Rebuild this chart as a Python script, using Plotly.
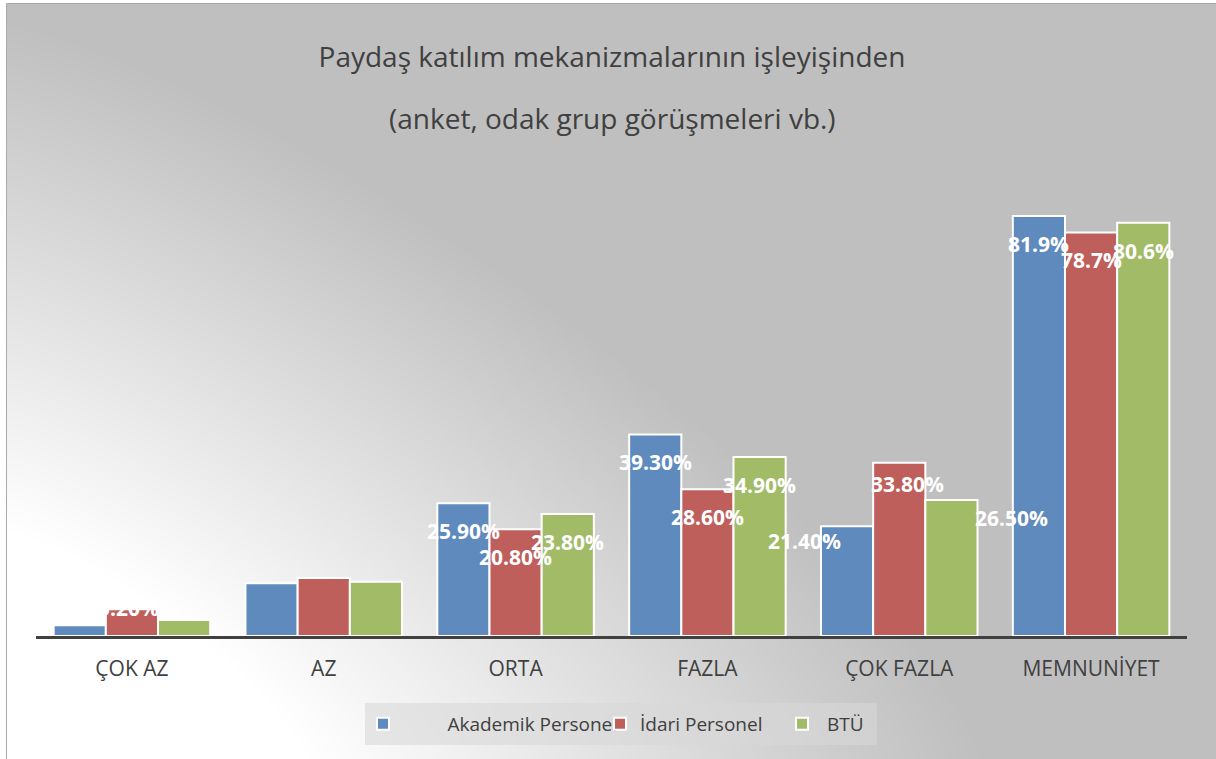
import base64
import struct
import zlib

import numpy as np
import plotly.graph_objects as go

# ---------------- data ----------------
categories = ["ÇOK AZ", "AZ", "ORTA", "FAZLA", "ÇOK FAZLA", "MEMNUNİYET"]
series_names = ["Akademik Personel", "İdari Personel", "BTÜ"]
akademik = [2.1, 10.3, 25.9, 39.3, 21.4, 81.9]
idari = [5.2, 11.3, 20.8, 28.6, 33.8, 78.7]
btu = [3.1, 10.6, 23.8, 34.9, 26.5, 80.6]
akademik_labels = ["", "", "25.90%", "39.30%", "21.40%", "81.9%"]
idari_labels = ["5.20%", "", "20.80%", "28.60%", "33.80%", "78.7%"]
btu_labels = ["", "", "23.80%", "34.90%", "26.50%", "80.6%"]
title_lines = ["Paydaş katılım mekanizmalarının işleyişinden",
               "(anket, odak grup görüşmeleri vb.)"]

# ---------------- style ----------------
W, H = 1216, 759
ML, MR, MT, MB = 36, 29, 175, 123
PX_PER_UNIT = 5.128
colors = ["#5F8ABD", "#BF5F5C", "#A1BB67"]
text_color = "#404040"
FONT = "Open Sans"
bargap = 0.184
# manual label displacements (px): (series, category) -> (dx, dy below bar top)
label_default_dy = 28
label_moves = {(1, 0): (-3, -1), (0, 4): (-43, 15), (1, 4): (8, 21), (2, 4): (60, 18)}

plot_w = W - ML - MR
plot_h = H - MT - MB


def px_to_paper_x(px):
    return (px - ML) / plot_w


def px_to_paper_y(py):
    return (H - MB - py) / plot_h


def gradient_png(w, h, box):
    x0, y0, x1, y1 = box
    xs = x0 + (np.arange(w) + 0.5) * (x1 - x0) / w
    ys = y0 + (np.arange(h) + 0.5) * (y1 - y0) / h
    X, Y = np.meshgrid(xs, ys)
    Hh = np.maximum(H - Y, 0)
    p = 1.3
    d = ((0.75 * X) ** p + Hh ** p) ** (1 / p)
    t = np.clip((d - 229) / 510, 0, 1)
    v = np.round(255 - 64 * t).astype(np.uint8)
    raw = b"".join(b"\x00" + row.tobytes() for row in v)

    def chunk(tag, data):
        return (struct.pack(">I", len(data)) + tag + data
                + struct.pack(">I", zlib.crc32(tag + data) & 0xFFFFFFFF))

    png = (b"\x89PNG\r\n\x1a\n"
           + chunk(b"IHDR", struct.pack(">IIBBBBB", w, h, 8, 0, 0, 0, 0))
           + chunk(b"IDAT", zlib.compress(raw, 9))
           + chunk(b"IEND", b""))
    return "data:image/png;base64," + base64.b64encode(png).decode()


bg_box = (7, 3, 1216, 759)
bg_src = gradient_png(604, 378, bg_box)

values = [akademik, idari, btu]
labels = [akademik_labels, idari_labels, btu_labels]
legend_widths = [192, 137, None]
legend_pad = ["\u00a0" * 9, "", "\u00a0"]

fig = go.Figure()
for j, (name, vals) in enumerate(zip(series_names, values)):
    fig.add_trace(go.Bar(
        x=categories, y=vals, name=legend_pad[j] + name,
        marker=dict(color=colors[j], line=dict(color="white", width=2)),
        legendwidth=legend_widths[j],
        hoverinfo="skip",
    ))

bw_units = (1 - bargap) / 3
annotations = []
for j in range(3):
    for i, txt in enumerate(labels[j]):
        if not txt:
            continue
        dx, dy = label_moves.get((j, i), (0, label_default_dy))
        annotations.append(dict(
            x=i + (j - 1) * bw_units, y=values[j][i], xref="x", yref="y",
            text=txt, showarrow=False, xanchor="center", yanchor="middle",
            xshift=dx, yshift=-dy,
            font=dict(family=FONT, size=21, color="white", weight="bold"),
        ))

# second title line
annotations.append(dict(
    x=px_to_paper_x(612), y=px_to_paper_y(118), xref="paper", yref="paper",
    text=title_lines[1], showarrow=False, xanchor="center", yanchor="middle",
    font=dict(family=FONT, size=28, color=text_color),
))

shapes = [
    # legend box
    dict(type="rect", xref="paper", yref="paper", layer="below",
         x0=px_to_paper_x(365), x1=px_to_paper_x(877),
         y0=px_to_paper_y(745), y1=px_to_paper_y(703),
         fillcolor="rgba(216,216,216,0.59)", line=dict(width=0)),
    # chart border
    dict(type="rect", xref="paper", yref="paper", layer="above",
         x0=px_to_paper_x(6.5), x1=px_to_paper_x(1222),
         y0=px_to_paper_y(766), y1=px_to_paper_y(3.5),
         fillcolor="rgba(0,0,0,0)", line=dict(color="#A9A9A9", width=1)),
]

fig.update_layout(
    width=W, height=H, autosize=False,
    margin=dict(l=ML, r=MR, t=MT, b=MB, pad=0),
    paper_bgcolor="white", plot_bgcolor="rgba(0,0,0,0)",
    barmode="group", bargap=bargap, bargroupgap=0,
    font=dict(family=FONT, color=text_color),
    title=dict(text=title_lines[0],
               font=dict(family=FONT, size=28, color=text_color),
               x=612 / W, xanchor="center", xref="container",
               y=1 - 57 / H, yanchor="middle", yref="container"),
    xaxis=dict(type="category", range=[-0.5, len(categories) - 0.5],
               showgrid=False, zeroline=False, showline=True,
               linecolor=text_color, linewidth=3, ticks="",
               ticklabelstandoff=12,
               tickfont=dict(family=FONT, size=21, color=text_color)),
    yaxis=dict(range=[0, plot_h / PX_PER_UNIT], visible=False,
               showgrid=False, zeroline=False),
    showlegend=True,
    legend=dict(orientation="h", xref="container", yref="container",
                x=363 / W, xanchor="left", y=1 - 724 / H, yanchor="middle",
                bgcolor="rgba(0,0,0,0)", borderwidth=0,
                font=dict(family=FONT, size=19, color=text_color),
                itemclick=False, itemdoubleclick=False),
    annotations=annotations,
    shapes=shapes,
    images=[dict(source=bg_src, xref="paper", yref="paper",
                 x=px_to_paper_x(bg_box[0]), y=px_to_paper_y(bg_box[1]),
                 sizex=(bg_box[2] - bg_box[0]) / plot_w,
                 sizey=(bg_box[3] - bg_box[1]) / plot_h,
                 xanchor="left", yanchor="top", sizing="stretch",
                 layer="below")],
)

fig.write_html("out.html", config={"displayModeBar": False},
               post_script="document.body.style.margin='0';")
